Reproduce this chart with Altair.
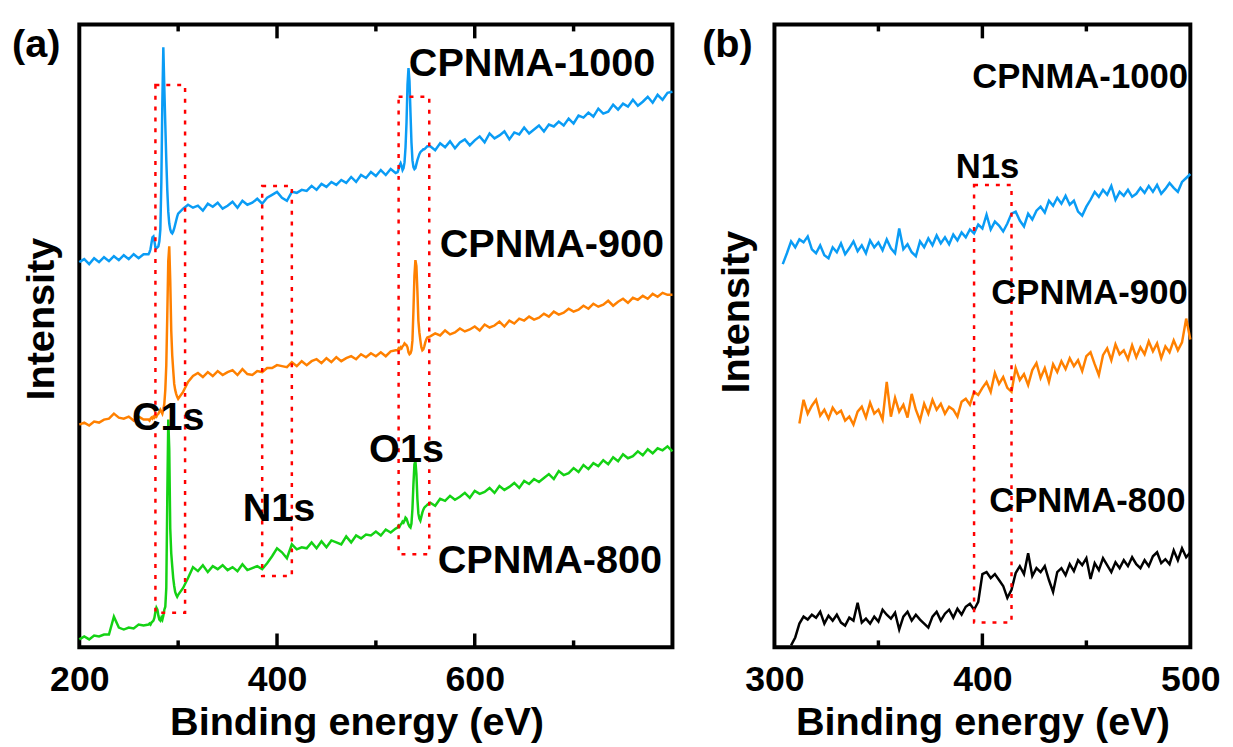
import altair as alt
import pandas as pd

FONT = "Liberation Sans"

# ---------------- survey spectra, panel (a) ----------------
SURVEY_E = (list(range(200, 270, 5)) + list(range(270, 301)) + list(range(305, 521, 5))
            + list(range(522, 553)) + list(range(555, 801, 5)))

CPNMA1000_SURVEY = [
    389, 392, 387, 393, 389, 394, 390, 395, 391, 396, 392, 397, 393, 397,
    397, 399, 402, 408, 414, 415, 410, 404, 403, 404, 405, 410, 422, 470, 550, 606,
    565, 528, 492, 462, 440, 428, 422, 419, 418, 420, 423, 427, 431, 435, 438,
    443, 447, 444, 446, 441, 448, 445, 449, 443, 446, 450, 444, 451, 447, 449, 453,
    448, 454, 457, 460, 454, 451, 460, 459, 462, 461, 466, 462, 468, 465, 470, 467,
    472, 469, 475, 470, 477, 474, 480, 476, 482, 477, 483, 479,
    480, 483, 487, 489, 486, 482, 484, 490, 505, 530, 568, 585, 572, 540, 510, 492,
    485, 483, 484, 488, 492, 495, 498, 500, 501, 502, 503, 503, 504, 505, 506,
    506, 502, 509, 505, 511, 504, 510, 513, 507, 512, 516, 510, 519, 514, 517, 521,
    513, 520, 518, 525, 519, 523, 527, 521, 528, 526, 531, 527, 534, 529, 537, 535,
    540, 536, 544, 539, 541, 548, 543, 549, 546, 553, 547, 551, 556, 550, 558, 553,
    560, 561,
]
CPNMA900_SURVEY = [
    225, 227, 224, 228, 227, 230, 231, 236, 232, 231, 233, 229, 233, 230,
    230, 229, 231, 232, 231, 233, 232, 234, 233, 235, 236, 238, 240, 238, 236, 240,
    246, 260, 285, 335, 390, 405, 370, 320, 295, 280, 266, 260, 256, 253, 251,
    258, 268, 274, 277, 273, 278, 274, 279, 275, 278, 280, 275, 281, 276, 275, 279,
    278, 282, 282, 285, 284, 283, 288, 284, 289, 285, 289, 291, 287, 292, 288, 293,
    289, 292, 294, 291, 296, 293, 297, 294, 298, 294, 299, 300,
    300, 302, 301, 303, 302, 304, 305, 307, 306, 305, 303, 298, 296, 297, 300, 310,
    340, 375, 391, 385, 360, 330, 318, 310, 303, 300, 301, 304, 308, 311, 313,
    314, 317, 315, 320, 316, 318, 322, 319, 321, 324, 320, 326, 323, 325, 329, 324,
    330, 327, 332, 330, 334, 331, 333, 337, 334, 339, 336, 338, 342, 339, 341, 345,
    342, 347, 344, 346, 350, 345, 349, 352, 348, 353, 351, 355, 352, 357, 354, 358,
    356, 356,
]
CPNMA800_SURVEY = [
    8, 11, 8, 12, 11, 13, 13, 31, 20, 18, 20, 19, 23, 22,
    23, 24, 23, 25, 26, 27, 30, 36, 40, 38, 32, 28, 27, 30, 28, 32,
    38, 41, 60, 150, 230, 200, 120, 95, 82, 70, 62, 56, 53, 51, 53,
    60, 70, 81, 77, 83, 76, 82, 79, 83, 78, 81, 77, 84, 78, 80, 82,
    79, 85, 92, 100, 96, 90, 104, 99, 101, 100, 106, 100, 107, 101, 108, 106,
    104, 112, 106, 113, 110, 114, 113, 117, 113, 119, 116, 120,
    121, 123, 122, 124, 125, 127, 126, 128, 131, 130, 127, 124, 122, 121, 125, 140,
    165, 185, 188, 175, 150, 135, 130, 128, 132, 136, 139, 141, 142, 143, 144,
    146, 143, 150, 148, 153, 149, 152, 156, 151, 158, 155, 157, 161, 156, 163, 159,
    162, 166, 161, 168, 165, 170, 167, 171, 175, 170, 178, 174, 176, 181, 177, 184,
    180, 186, 183, 189, 185, 192, 188, 195, 191, 193, 198, 194, 200, 196, 201, 199,
    203, 198,
]

# ---------------- N1s spectra, panel (b) ----------------
N1S_E_1000 = list(range(304, 501, 2))
CPNMA1000_N1S = [
    387, 398, 410, 404, 412, 409, 415, 402, 398, 406,
    396, 393, 404, 399, 408, 397, 403, 410, 400, 406,
    398, 411, 404, 409, 401, 412, 403, 398, 423, 402,
    407, 399, 395, 410, 404, 413, 406, 416, 408, 414,
    407, 417, 411, 419, 414, 422, 418, 427, 423, 437,
    422, 430, 426, 420, 428, 438, 440, 431, 425, 438,
    432, 441, 445, 439, 451, 446, 454, 448, 456, 447,
    451, 440, 436, 445, 452, 460, 455, 462, 457, 466,
    452, 460, 456, 462, 455, 458, 464, 459, 466, 460,
    467, 458, 463, 469, 464, 460, 470, 474, 478,
]
N1S_E_900 = list(range(312, 501, 2))
CPNMA900_N1S = [
    226, 250, 236, 244, 250, 234, 240, 231, 242, 236,
    239, 229, 233, 225, 238, 243, 232, 247, 236, 240,
    230, 268, 233, 252, 238, 245, 232, 256, 240, 229,
    246, 236, 250, 240, 246, 236, 243, 240, 233, 248,
    251, 245, 258, 255, 262, 268, 258, 277, 266, 273,
    262, 258, 282, 270, 276, 265, 280, 287, 272, 282,
    268, 286, 278, 289, 281, 292, 284, 290, 279, 294,
    298, 286, 275, 295, 302, 290, 306, 296, 300, 291,
    305, 293, 303, 296, 309, 299, 307, 292, 304, 298,
    310, 300, 308, 332, 311,
]
N1S_E_800 = list(range(308, 501, 2))
CPNMA800_N1S = [
    2, 10, 24, 31, 28, 33, 30, 36, 24, 32,
    27, 33, 25, 22, 30, 27, 45, 25, 29, 24,
    31, 26, 38, 33, 29, 35, 18, 31, 36, 27,
    33, 28, 24, 20, 31, 36, 27, 34, 38, 30,
    39, 33, 41, 44, 38, 46, 74, 76, 70, 74,
    68, 62, 50, 58, 75, 82, 74, 95, 72, 80,
    76, 82, 68, 56, 76, 80, 73, 84, 77, 88,
    83, 90, 69, 85, 78, 90, 83, 76, 86, 80,
    88, 82, 91, 84, 80, 88, 82, 92, 96, 85,
    89, 84, 98, 88, 100, 91, 96,
]

# ---------------- annotations ----------------
BOX_A_E1 = [277, 385, 523]
BOX_A_E2 = [307, 415, 554]
BOX_A_LOW = [35, 72, 94]
BOX_A_HIGH = [568, 466, 556]

BOX_B_E1 = [396]
BOX_B_E2 = [414]
BOX_B_LOW = [25]
BOX_B_HIGH = [467]

LABELS_A = ["CPNMA-1000", "CPNMA-900", "CPNMA-800", "C1s", "N1s", "O1s"]
LABELS_A_E = [658, 678, 676, 290, 402, 531]
LABELS_A_I = [589, 406, 87, 232, 140, 199]

LABELS_B = ["CPNMA-1000", "N1s", "CPNMA-900", "CPNMA-800"]
LABELS_B_E = [447, 402.5, 451.5, 450.5]
LABELS_B_I = [576, 485, 358, 148]

TICKS_A_MAJOR = [400, 600]
TICKS_A_MINOR = [300, 500, 700]
TICKS_B_MAJOR = [400]
TICKS_B_MINOR = [350, 450]

COLORS = {"1000": "#0a9cf5", "900": "#ff8000", "800": "#14d214", "800b": "#000000"}

H = 629
W_A = 599
W_B = 420
MAJOR_LEN = 14
MINOR_LEN = 7


def x_enc(domain, values, title_x=None):
    ax = dict(values=values, title="Binding energy (eV)", ticks=False, tickSize=0,
              domain=False, grid=False, labelFontSize=36, labelFontWeight="bold",
              labelColor="black", labelFont=FONT, labelPadding=16, labelFlush=False,
              labelOverlap=False, titleFontSize=40, titleFontWeight="bold",
              titleFont=FONT, titleColor="black", titlePadding=5)
    if title_x is not None:
        ax["titleX"] = title_x
    return alt.X("E:Q", scale=alt.Scale(domain=domain, nice=False, zero=False),
                 axis=alt.Axis(**ax))


def y_enc(title_y):
    return alt.Y("I:Q", scale=alt.Scale(domain=[0, H], nice=False, zero=False),
                 axis=alt.Axis(title="Intensity", labels=False, ticks=False, domain=False,
                               grid=False, titleFontSize=40, titleFontWeight="bold",
                               titleFont=FONT, titleColor="black", titlePadding=18,
                               titleY=title_y))


def line(e, vals, color, X, Y):
    df = pd.DataFrame({"E": e, "I": vals})
    return alt.Chart(df).mark_line(color=color, strokeWidth=2.5).encode(x=X, y=Y)


def boxes(e1, e2, lo, hi, X, Y):
    df = pd.DataFrame({"E": e1, "E2": e2, "I": lo, "I2": hi})
    return alt.Chart(df).mark_rect(filled=False, stroke="#ff0000", strokeWidth=2.5,
                                   strokeDash=[4, 7]).encode(
        x=X, x2="E2:Q", y=Y, y2="I2:Q")


def ticks(major, minor, X, Y):
    # inward tick marks on the bottom and top frame (lengths in intensity units = px)
    rows = []
    for e in major:
        rows += [(e, 0, MAJOR_LEN), (e, H, H - MAJOR_LEN)]
    for e in minor:
        rows += [(e, 0, MINOR_LEN), (e, H, H - MINOR_LEN)]
    df = pd.DataFrame(rows, columns=["E", "I", "I2"])
    return alt.Chart(df).mark_rule(color="black", strokeWidth=3.5).encode(
        x=X, y=Y, y2="I2:Q")


def labels(texts, e, i, size, X, Y):
    df = pd.DataFrame({"E": e, "I": i, "label": texts})
    return alt.Chart(df).mark_text(fontSize=size, fontWeight="bold", font=FONT,
                                   color="black", align="center",
                                   baseline="middle").encode(x=X, y=Y, text="label:N")


def panel_tag(tag, xoff):
    df = pd.DataFrame({"t": [tag]})
    return alt.Chart(df).mark_text(fontSize=40, fontWeight="bold", font=FONT,
                                   color="black", align="left", baseline="middle").encode(
        x=alt.value(xoff), y=alt.value(21), text="t:N")


# ---------------- panel (a) ----------------
XA = x_enc([200, 800], [200, 400, 600], title_x=280)
YA = y_enc(297)
panel_a = alt.layer(
    line(SURVEY_E, CPNMA1000_SURVEY, COLORS["1000"], XA, YA),
    line(SURVEY_E, CPNMA900_SURVEY, COLORS["900"], XA, YA),
    line(SURVEY_E, CPNMA800_SURVEY, COLORS["800"], XA, YA),
    boxes(BOX_A_E1, BOX_A_E2, BOX_A_LOW, BOX_A_HIGH, XA, YA),
    ticks(TICKS_A_MAJOR, TICKS_A_MINOR, XA, YA),
    labels(LABELS_A, LABELS_A_E, LABELS_A_I, 40, XA, YA),
    panel_tag("(a)", -68),
).properties(width=W_A, height=H)

# ---------------- panel (b) ----------------
XB = x_enc([300, 500], [300, 400, 500])
YB = y_enc(290)
panel_b = alt.layer(
    line(N1S_E_1000, CPNMA1000_N1S, COLORS["1000"], XB, YB),
    line(N1S_E_900, CPNMA900_N1S, COLORS["900"], XB, YB),
    line(N1S_E_800, CPNMA800_N1S, COLORS["800b"], XB, YB),
    boxes(BOX_B_E1, BOX_B_E2, BOX_B_LOW, BOX_B_HIGH, XB, YB),
    ticks(TICKS_B_MAJOR, TICKS_B_MINOR, XB, YB),
    labels(LABELS_B, LABELS_B_E, LABELS_B_I, 35, XB, YB),
    panel_tag("(b)", -73),
).properties(width=W_B, height=H)

chart = alt.hconcat(panel_a, panel_b, spacing=21).properties(
    padding={"left": 2, "top": 9, "right": 2, "bottom": 2}
).configure(
    font=FONT, background="white",
    view=alt.ViewConfig(stroke="black", strokeWidth=4),
)

chart.save("out.html", embed_options={"renderer": "svg", "actions": False})
